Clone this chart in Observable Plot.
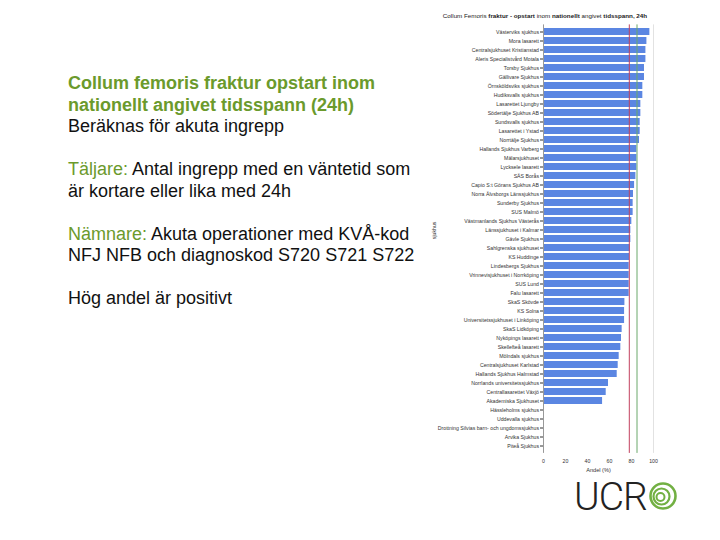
<!DOCTYPE html>
<html>
<head>
<meta charset="utf-8">
<script src="https://cdn.jsdelivr.net/npm/d3@7"></script>
<script src="https://cdn.jsdelivr.net/npm/@observablehq/plot@0.6"></script>
<style>
  html, body { margin: 0; padding: 0; background: #fff; }
  body { width: 720px; height: 540px; position: relative; overflow: hidden; font-family: "Liberation Sans", Arial, sans-serif; }
  #text { position: absolute; left: 68px; top: 73px; font-size: 18px; line-height: 21.5px; color: #111; white-space: nowrap; }
  .g { color: #6b9a2c; }
  .gb { color: #6b9a2c; font-weight: bold; }
  #ctitle { position: absolute; left: 425px; top: 12px; width: 240px; text-align: center; font-size: 6.25px; color: #222; white-space: nowrap; }
  #ctitle b { font-weight: bold; }
  #chart { position: absolute; left: 430px; top: 0px; }
  #logo { position: absolute; left: 572px; top: 462px; width: 116px; height: 64px; }
</style>
</head>
<body>
<div id="text">
  <div class="gb">Collum femoris fraktur opstart inom</div>
  <div class="gb">nationellt angivet tidsspann (24h)</div>
  <div>Beräknas för akuta ingrepp</div>
  <div>&nbsp;</div>
  <div><span class="g">Täljare:</span> Antal ingrepp med en väntetid som</div>
  <div>är kortare eller lika med 24h</div>
  <div>&nbsp;</div>
  <div><span class="g">Nämnare:</span> Akuta operationer med KVÅ-kod</div>
  <div>NFJ NFB och diagnoskod S720 S721 S722</div>
  <div>&nbsp;</div>
  <div>Hög andel är positivt</div>
</div>
<div id="ctitle">Collum Femoris <b>fraktur - opstart</b> inom <b>nationellt</b> angivet <b>tidsspann, 24h</b></div>
<div id="chart"></div>
<svg id="logo" width="116" height="64" viewBox="0 0 116 64">
  <text x="2" y="48" font-family="Roboto, 'Liberation Sans', sans-serif" font-weight="300" font-size="39" fill="#222" letter-spacing="-1">UCR</text>
  <circle cx="91" cy="34" r="12.5" fill="none" stroke="#72b043" stroke-width="2.6"/>
  <circle cx="89.5" cy="34.5" r="8" fill="none" stroke="#72b043" stroke-width="2.2"/>
  <circle cx="88.5" cy="35" r="4" fill="none" stroke="#72b043" stroke-width="2"/>
</svg>
<script>
const hospitals = [
  "Västerviks sjukhus", "Mora lasarett", "Centralsjukhuset Kristianstad", "Aleris Specialistvård Motala",
  "Torsby Sjukhus", "Gällivare Sjukhus", "Örnsköldsviks sjukhus", "Hudiksvalls sjukhus",
  "Lasarettet Ljungby", "Södertälje Sjukhus AB", "Sundsvalls sjukhus", "Lasarettet i Ystad",
  "Norrtälje Sjukhus", "Hallands Sjukhus Varberg", "Mälarsjukhuset", "Lycksele lasarett",
  "SÄS Borås", "Capio S:t Görans Sjukhus AB", "Norra Älvsborgs Länssjukhus", "Sunderby Sjukhus",
  "SUS Malmö", "Västmanlands Sjukhus Västerås", "Länssjukhuset i Kalmar", "Gävle Sjukhus",
  "Sahlgrenska sjukhuset", "KS Huddinge", "Lindesbergs Sjukhus", "Vrinnevisjukhuset i Norrköping",
  "SUS Lund", "Falu lasarett", "SkaS Skövde", "KS Solna",
  "Universitetssjukhuset i Linköping", "SkaS Lidköping", "Nyköpings lasarett", "Skellefteå lasarett",
  "Mölndals sjukhus", "Centralsjukhuset Karlstad", "Hallands Sjukhus Halmstad", "Norrlands universitetssjukhus",
  "Centrallasarettet Växjö", "Akademiska Sjukhuset", "Hässleholms sjukhus", "Uddevalla sjukhus",
  "Drottning Silvias barn- och ungdomssjukhus", "Arvika Sjukhus", "Piteå Sjukhus"
];
const shares = [
  96.7, 94.0, 93.1, 93.1,
  91.8, 91.8, 90.3, 90.3,
  88.5, 88.5, 87.9, 87.9,
  87.3, 84.9, 84.9, 84.9,
  84.0, 82.8, 81.8, 81.5,
  81.5, 80.3, 79.4, 79.4,
  78.8, 78.2, 77.9, 77.9,
  77.9, 77.9, 74.0, 73.7,
  73.7, 71.5, 70.9, 70.3,
  68.8, 67.9, 67.0, 59.1,
  57.0, 53.7, null, null,
  null, null, null
];
const xTicks = [0, 20, 40, 60, 80, 100];
const redLevel = [78];
const greenLevel = [85];

const data = hospitals.map((h, i) => ({hospital: h, value: shares[i]}));

const chart = Plot.plot({
  width: 240,
  height: 480,
  marginLeft: 113,
  marginRight: 17,
  marginTop: 24.4,
  marginBottom: 27.1,
  style: {fontFamily: "'Liberation Sans', Arial, sans-serif", fontSize: "5.2px", color: "#333", background: "transparent"},
  x: {domain: [0, 100], ticks: xTicks, tickSize: 0, tickPadding: 6, label: null},
  y: {domain: hospitals, padding: 0.17, tickSize: 3, tickPadding: 1.5, label: null},
  marks: [
    Plot.ruleX([100], {stroke: "#e2e2e2"}),
    Plot.barX(data.filter(d => d.value != null), {x: "value", y: "hospital", fill: "#5b86e2"}),
    Plot.ruleX(redLevel, {stroke: "#c2405e", strokeWidth: 1}),
    Plot.ruleX(greenLevel, {stroke: "#6aa86a", strokeWidth: 1}),
    Plot.ruleX([0], {stroke: "#999"}),
    Plot.text(["sjukhus"], {frameAnchor: "left", dx: -109, rotate: -90, fontSize: 5.2, fill: "#333"}),
    Plot.text(["Andel (%)"], {frameAnchor: "bottom", lineAnchor: "middle", dy: 17, fontSize: 5.6, fill: "#333"})
  ]
});
document.getElementById("chart").appendChild(chart);
</script>
</body>
</html>
